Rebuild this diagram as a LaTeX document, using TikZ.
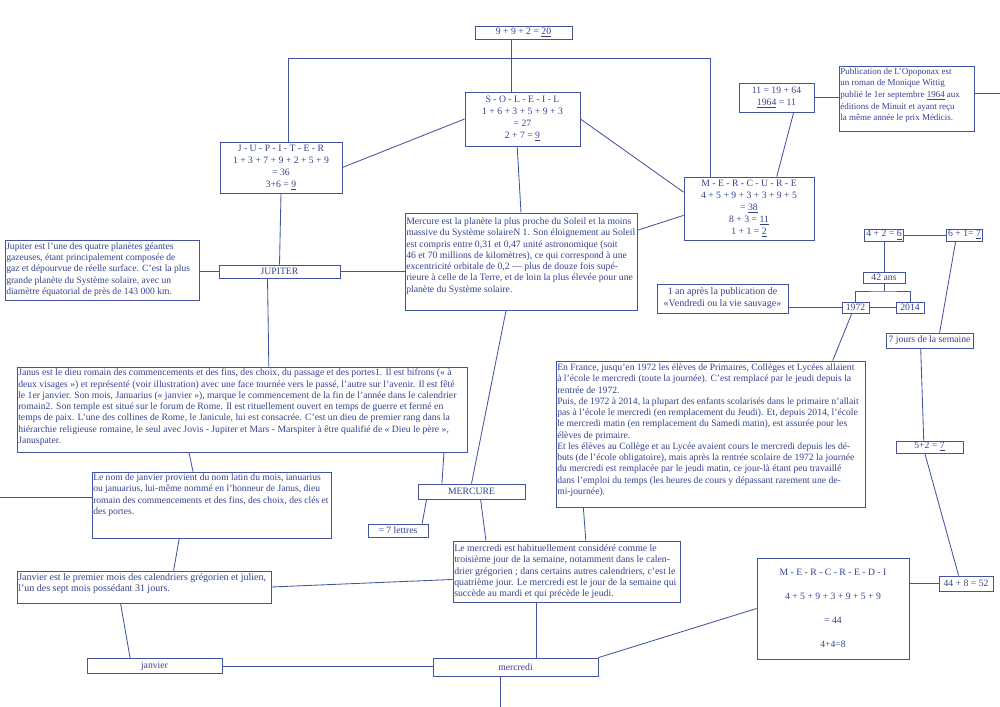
\documentclass[tikz,border=0pt]{standalone}
\usepackage{fontspec}
\setmainfont{Liberation Serif}
\usepackage{tikz}
\usetikzlibrary{positioning}

\begin{document}
\begin{tikzpicture}
        [ x=0.025cm, y=-0.025cm
        , box/.style={draw=border, line width=0.6pt, text=ink, inner xsep=1pt, inner ysep=0.5pt, align=center, font=\fontsize{6.9}{8.5}\selectfont}
        , sz/.style 2 args={minimum width=#1*0.025cm, minimum height=#2*0.025cm}
        , txt/.style={text=ink, inner sep=0pt, align=left, font=\fontsize{6.9}{8}\selectfont}
        , fs/.style={font=\fontsize{#1}{8}\selectfont}
        , wide/.style={font=\fontsize{6.9}{17}\selectfont}
        , li/.style={draw=border, line width=0.6pt}
        ]
        \definecolor{ink}{RGB}{52,66,140}
        \definecolor{border}{RGB}{66,84,160}

        \useasboundingbox (0,0) rectangle (1000,707);

        % Soleil, Jupiter, Mercure
        \node (sum20) [box, sz={97}{13}] at (523.5,32.5) {9 + 9 + 2 = \underline{20}};
        \node (soleil) [box, sz={115}{54}] at (522.5,119) {S - O - L - E - I - L\\1 + 6 + 3 + 5 + 9 + 3\\= 27\\2 + 7 = \underline{9}};
        \node (jupp) [box, sz={122}{51}] at (281,167.5) {J - U - P - I - T - E - R\\1 + 3 + 7 + 9 + 2 + 5 + 9\\= 36\\3+6 = \underline{9}};
        \node (merp) [box, sz={130}{63}] at (749,208.5) {M - E - R - C - U - R - E\\4 + 5 + 9 + 3 + 3 + 9 + 5\\= \underline{38}\\8 + 3 = \underline{11}\\1 + 1 = \underline{2}};
        \node (y1964) [box, sz={75}{29}] at (776.5,97.5) {11 = 19 + 64\\\underline{1964} = 11};
        \node (opop) [box, sz={135}{65}] at (906.5,98.5) {};
            \node (opopT) [txt, font=\fontsize{6.4}{8.3}\selectfont, below right=1.5pt and 1pt of opop.north west] {Publication de L'Opoponax est\\un roman de Monique Wittig\\publié le 1er septembre \underline{1964} aux\\éditions de Minuit et ayant reçu\\la même année le prix Médicis.};
        \node (mertext) [box, sz={232}{97}] at (521,261.5) {};
            \node (mertextT) [txt, fs=6.9, below right=3.5pt and 1pt of mertext.north west] {Mercure est la planète la plus proche du Soleil et la moins\\massive du Système solaireN 1. Son éloignement au Soleil\\est compris entre 0,31 et 0,47 unité astronomique (soit\\46 et 70 millions de kilomètres), ce qui correspond à une\\excentricité orbitale de 0,2 — plus de douze fois supé-\\rieure à celle de la Terre, et de loin la plus élevée pour une\\planète du Système solaire.};
        \node (juptext) [box, sz={194}{60}] at (102,270) {};
            \node (juptextT) [txt, fs=6.8, below right=2pt and 1pt of juptext.north west] {Jupiter est l’une des quatre planètes géantes\\gazeuses, étant principalement composée de\\gaz et dépourvue de réelle surface. C’est la plus\\grande planète du Système solaire, avec un\\diamètre équatorial de près de 143 000 km.};
        \node (jupl) [box, sz={121}{13}] at (279.5,271.5) {JUPITER};

        % dates
        \node (four2) [box, sz={39}{12}] at (884,235) {4 + 2 = \underline{6}};
        \node (six1) [box, sz={35}{12}] at (964.5,235) {6 + 1= \underline{7}};
        \node (ans42) [box, sz={42}{11}] at (884,277.5) {42 ans};
        \node (unan) [box, sz={131}{29}, font=\fontsize{7.1}{8.5}\selectfont] at (722.5,298.5) {1 an après la publication de\\«Vendredi ou la vie sauvage»};
        \node (y1972) [box, sz={27}{11}] at (855.5,307.5) {1972};
        \node (y2014) [box, sz={28}{11}] at (910,307.5) {2014};
        \node (jours7) [box, sz={87}{15}] at (929.5,340.5) {7 jours de la semaine};
        \node (five2) [box, sz={67}{12}] at (929.5,447) {5+2 = \underline{7}};
        \node (france) [box, sz={309}{146}] at (710.5,434) {};
            \node (franceT) [txt, fs=6.85, below right=2.2pt and 1pt of france.north west] {En France, jusqu'en 1972 les élèves de Primaires, Collèges et Lycées allaient\\à l'école le mercredi (toute la journée). C'est remplacé par le jeudi depuis la\\rentrée de 1972.\\Puis, de 1972 à 2014, la plupart des enfants scolarisés dans le primaire n'allait\\pas à l'école le mercredi (en remplacement du Jeudi). Et, depuis 2014, l'école\\le mercredi matin (en remplacement du Samedi matin), est assurée pour les\\élèves de primaire.\\Et les élèves au Collège et au Lycée avaient cours le mercredi depuis les dé-\\buts (de l'école obligatoire), mais après la rentrée scolaire de 1972 la journée\\du mercredi est remplacée par le jeudi matin, ce jour-là étant peu travaillé\\dans l'emploi du temps (les heures de cours y dépassant rarement une de-\\mi-journée).};

        % Janus, janvier, mercredi
        \node (janus) [box, sz={450}{85}] at (242,409.5) {};
            \node (janusT) [txt, fs=6.88, below right=1.5pt and 1pt of janus.north west] {Janus est le dieu romain des commencements et des fins, des choix, du passage et des portes1. Il est bifrons (« à\\deux visages ») et représenté (voir illustration) avec une face tournée vers le passé, l'autre sur l'avenir. Il est fêté\\le 1er janvier. Son mois, Januarius (« janvier »), marque le commencement de la fin de l'année dans le calendrier\\romain2. Son temple est situé sur le forum de Rome. Il est rituellement ouvert en temps de guerre et fermé en\\temps de paix. L'une des collines de Rome, le Janicule, lui est consacrée. C'est un dieu de premier rang dans la\\hiérarchie religieuse romaine, le seul avec Jovis - Jupiter et Mars - Marspiter à être qualifié de « Dieu le père »,\\Januspater.};
        \node (lenom) [box, sz={239}{66}] at (211.5,505) {};
            \node (lenomT) [txt, fs=6.8, below right=1.5pt and 1pt of lenom.north west] {Le nom de janvier provient du nom latin du mois, ianuarius\\ou januarius, lui-même nommé en l'honneur de Janus, dieu\\romain des commencements et des fins, des choix, des clés et\\des portes.};
        \node (mercure) [box, sz={107}{15}] at (471.5,491.5) {MERCURE};
        \node (lettres7) [box, sz={60}{13}] at (398,530.5) {= 7 lettres};
        \node (lemerc) [box, sz={227}{61}] at (566.5,571.5) {};
            \node (lemercT) [txt, fs=6.97, below right=2.8pt and 1pt of lemerc.north west] {Le mercredi est habituellement considéré comme le\\troisième jour de la semaine, notamment dans le calen-\\drier grégorien ; dans certains autres calendriers, c'est le\\quatrième jour. Le mercredi est le jour de la semaine qui\\succède au mardi et qui précède le jeudi.};
        \node (janvtext) [box, sz={254}{32}] at (144,587) {};
            \node (janvtextT) [txt, fs=7.1, below right=2pt and 1pt of janvtext.north west] {Janvier est le premier mois des calendriers grégorien et julien,\\l'un des sept mois possédant 31 jours.};
        \node (mercbig) [box, wide, sz={152}{101}] at (833,608.5) {M - E - R - C - R - E - D - I\\4 + 5 + 9 + 3 + 9 + 5 + 9\\= 44\\4+4=8};
        \node (sum52) [box, sz={54}{15}] at (966,583.5) {44 + 8 = 52};
        \node (janvier) [box, sz={135}{15}] at (154.5,666) {janvier};
        \node (mercredi) [box, sz={165}{18}] at (515.5,667) {mercredi};

        \coordinate (topM) at (511,58);
        \coordinate (topL) at (288,58);
        \coordinate (topR) at (710,58);
        \coordinate (opopR) at (1000,93);
        \coordinate (brk) at (884,291);
        \coordinate (lenomL) at (0,497);
        \coordinate (mercB) at (500,707);

        \draw[li] (sum20.south -| topM) -- (soleil.north -| topM);
        \draw[li] (jupp.north -| topL) |- (topR) -- (merp.north -| topR);
        \draw[li] (jupp.east) -- (soleil.west);
        \draw[li] (soleil.east) -- (merp.166);
        \draw[li] (soleil.-101) -- (mertext.north);
        \draw[li] (mertext.15) -- (merp.-174);
        \draw[li] (y1964.-41) -- (merp.49);
        \draw[li] (y1964.east) -- (opop.west |- y1964.east);
        \draw[li] (opop.east |- opopR) -- (opopR);
        \draw[li] (jupp.south) -- (jupl.north);
        \draw[li] (juptext.east |- jupl.west) -- (jupl.west);
        \draw[li] (jupl.east) -- (mertext.west |- jupl.east);
        \draw[li] (jupl.-150.5) -- (janus.58.5);
        \draw[li] (janus.-141.3) -- (lenom.119.3);
        \draw[li] (janus.-12.4) -- (mercure.165.3);
        \draw[li] (mertext.-107) -- (mercure.north);
        \draw[li] (lettres7.16.5) -- (mercure.-170.2);
        \draw[li] (mercure.-41.4) -- (lemerc.159.9);
        \draw[li] (france.-150.2) -- (lemerc.58.8);

        \draw[li] (y1972.-122.5) -- (france.31.6);
        \draw[li] (y1972.west) -- (unan.east |- y1972.west);
        \draw[li] (y1972.east) -- (y2014.west);
        \draw[li] (y1972.north) |- (brk) -| (y2014.north);
        \draw[li] (ans42.south) -- (ans42.south |- brk);
        \draw[li] (four2.south) -- (ans42.north);
        \draw[li] (four2.east) -- (six1.west);
        \draw[li] (six1.-144.8) -- (jours7.38.3);
        \draw[li] (jours7.-138.6) -- (five2.132.5);
        \draw[li] (five2.-126.9) -- (sum52.133);
        \draw[li] (mercbig.east |- sum52.west) -- (sum52.west);
        \draw[li] (mercredi.north east) -- (mercbig.west);

        \draw[li] (lenom.west |- lenomL) -- (lenomL);
        \draw[li] (lenom.-134.6) -- (janvtext.29.7);
        \draw[li] (janvtext.east) -- (lemerc.-176.7);
        \draw[li] (janvtext.-145.2) -- (janvier.162.3);
        \draw[li] (janvier.east) -- (mercredi.west |- janvier.east);
        \draw[li] (lemerc.-134) -- (lemerc.-134 |- mercredi.north);
        \draw[li] (mercredi.south -| mercB) -- (mercB);
\end{tikzpicture}
\end{document}
